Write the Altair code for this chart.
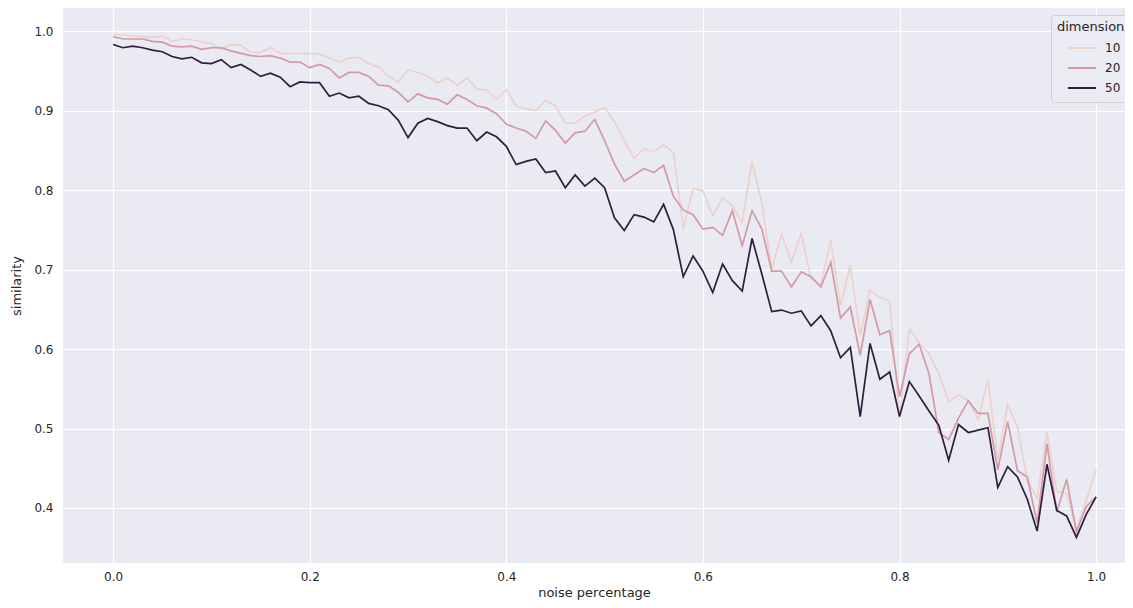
import altair as alt
import pandas as pd

noise = [i / 100 for i in range(101)]

dim10 = [0.996, 0.995, 0.994, 0.993, 0.992, 0.994, 0.987, 0.990, 0.989, 0.986,
         0.984, 0.977, 0.983, 0.982, 0.973, 0.973, 0.979, 0.972, 0.972, 0.972,
         0.972, 0.971, 0.966, 0.961, 0.966, 0.967, 0.959, 0.955, 0.943, 0.936,
         0.951, 0.948, 0.943, 0.935, 0.941, 0.932, 0.941, 0.927, 0.926, 0.914,
         0.926, 0.906, 0.902, 0.900, 0.913, 0.906, 0.884, 0.884, 0.893, 0.898,
         0.904, 0.886, 0.862, 0.840, 0.852, 0.848, 0.857, 0.847, 0.751, 0.802,
         0.799, 0.768, 0.790, 0.780, 0.759, 0.836, 0.783, 0.701, 0.744, 0.709,
         0.745, 0.688, 0.681, 0.737, 0.655, 0.705, 0.617, 0.674, 0.665, 0.660,
         0.512, 0.626, 0.607, 0.594, 0.569, 0.534, 0.542, 0.535, 0.512, 0.561,
         0.460, 0.530, 0.502, 0.435, 0.412, 0.496, 0.421, 0.418, 0.372, 0.410,
         0.448]

dim20 = [0.993, 0.990, 0.990, 0.990, 0.987, 0.986, 0.981, 0.980, 0.981, 0.977,
         0.979, 0.979, 0.975, 0.972, 0.969, 0.968, 0.969, 0.966, 0.961, 0.961,
         0.954, 0.958, 0.953, 0.941, 0.948, 0.948, 0.943, 0.932, 0.931, 0.923,
         0.911, 0.921, 0.916, 0.914, 0.908, 0.920, 0.914, 0.906, 0.903, 0.896,
         0.883, 0.878, 0.874, 0.865, 0.887, 0.875, 0.859, 0.872, 0.874, 0.889,
         0.862, 0.833, 0.811, 0.819, 0.827, 0.822, 0.831, 0.792, 0.775, 0.769,
         0.751, 0.753, 0.743, 0.774, 0.730, 0.774, 0.751, 0.698, 0.698, 0.678,
         0.697, 0.691, 0.678, 0.709, 0.639, 0.653, 0.592, 0.662, 0.618, 0.623,
         0.540, 0.594, 0.606, 0.569, 0.495, 0.486, 0.513, 0.535, 0.519, 0.519,
         0.448, 0.509, 0.447, 0.439, 0.381, 0.481, 0.395, 0.436, 0.370, 0.402,
         0.414]

dim50 = [0.983, 0.979, 0.981, 0.979, 0.976, 0.974, 0.968, 0.965, 0.967, 0.960,
         0.959, 0.964, 0.954, 0.958, 0.951, 0.943, 0.947, 0.942, 0.930, 0.936,
         0.935, 0.935, 0.918, 0.922, 0.916, 0.918, 0.909, 0.906, 0.901, 0.888,
         0.866, 0.884, 0.890, 0.886, 0.881, 0.878, 0.878, 0.862, 0.873, 0.867,
         0.855, 0.832, 0.836, 0.839, 0.822, 0.824, 0.803, 0.819, 0.805, 0.815,
         0.803, 0.765, 0.749, 0.769, 0.766, 0.760, 0.782, 0.750, 0.691, 0.717,
         0.698, 0.671, 0.707, 0.686, 0.673, 0.739, 0.694, 0.647, 0.649, 0.645,
         0.648, 0.629, 0.642, 0.623, 0.589, 0.602, 0.515, 0.607, 0.562, 0.571,
         0.515, 0.559, 0.541, 0.522, 0.504, 0.460, 0.505, 0.495, 0.498, 0.501,
         0.426, 0.452, 0.439, 0.411, 0.371, 0.455, 0.397, 0.390, 0.363, 0.392,
         0.414]

dimensions = ["10", "20", "50"]
colors = ["#EDD1CB", "#D499A7", "#2D1E3E"]
x_ticks = [0.0, 0.2, 0.4, 0.6, 0.8, 1.0]
y_ticks = [0.4, 0.5, 0.6, 0.7, 0.8, 0.9, 1.0]

rows = []
for k, (d, vals) in enumerate(zip(dimensions, [dim10, dim20, dim50])):
    for x, y in zip(noise, vals):
        rows.append({"noise percentage": x, "similarity": y, "dimension": d, "ord": k})
df = pd.DataFrame(rows)

FONT = "DejaVu Sans"
TXT = "#262626"

chart = alt.Chart(df).mark_line(strokeWidth=1.7, clip=True).encode(
    x=alt.X("noise percentage:Q",
            scale=alt.Scale(domain=[-0.051, 1.0294], nice=False, zero=False),
            axis=alt.Axis(values=x_ticks, format=".1f", labelPadding=8, titlePadding=4)),
    y=alt.Y("similarity:Q",
            scale=alt.Scale(domain=[0.3308, 1.029], nice=False, zero=False),
            axis=alt.Axis(values=y_ticks, format=".1f", labelPadding=10, titlePadding=10)),
    color=alt.Color("dimension:N",
                    scale=alt.Scale(domain=dimensions, range=colors),
                    legend=alt.Legend(orient="none", legendX=988, legendY=7,
                                      title="dimension", titleFontSize=13,
                                      titleFont=FONT, titleColor=TXT,
                                      titleFontWeight="normal",
                                      labelFont=FONT, labelFontSize=12, labelColor=TXT,
                                      symbolType="stroke", symbolSize=784,
                                      symbolStrokeWidth=1.8, symbolOffset=10,
                                      labelOffset=8, clipHeight=16, rowPadding=4,
                                      titlePadding=6,
                                      padding=6, fillColor="#EBEBF3",
                                      strokeColor="#D0D0D0", cornerRadius=3)),
    order=alt.Order("ord:Q"),
).properties(
    width=1062, height=555,
    autosize=alt.AutoSizeParams(type="none"),
    padding={"left": 55, "top": 0, "right": 0, "bottom": 37},
).configure_view(
    fill="#EAEAF2", stroke=None
).configure_axis(
    domain=False, ticks=False, grid=True, gridColor="white", gridWidth=1.2,
    labelFont=FONT, labelFontSize=12, labelColor=TXT,
    titleFont=FONT, titleFontSize=13, titleColor=TXT, titleFontWeight="normal",
)

chart.save("out.html", embed_options={"renderer": "svg", "actions": False})
